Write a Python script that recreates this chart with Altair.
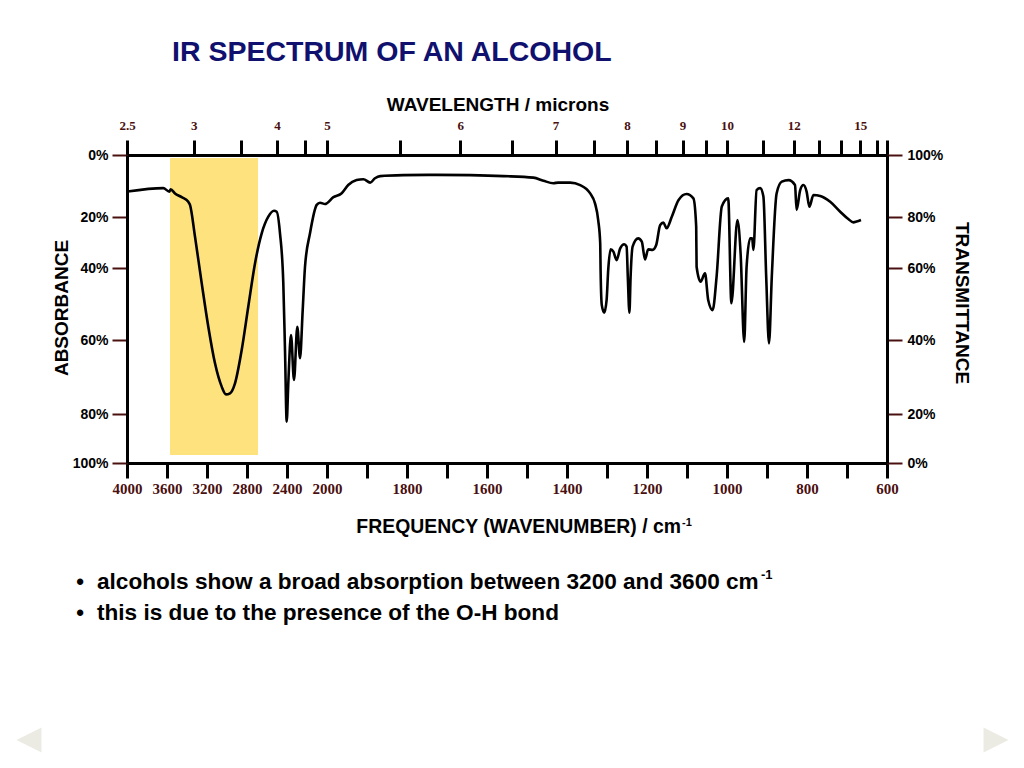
import altair as alt
import pandas as pd

SANS = "Liberation Sans"
SERIF = "Liberation Serif"
MAROON = "#4a1010"
NAVY = "#10106e"

# spectrum trace: wavenumber (cm-1) and transmittance (%)
wavenumber = [3995, 3637, 3577, 3563, 3520, 3453, 3387, 3370, 3320, 3253,
              3187, 3120, 3053, 3010, 2970, 2920, 2853, 2787, 2720, 2653,
              2587, 2530, 2503, 2470, 2437, 2420, 2403, 2387, 2360, 2330,
              2297, 2270, 2243, 2220, 2170, 2103, 2070, 2020, 1984, 1964,
              1947, 1926, 1909, 1892, 1880, 1867, 1809, 1726, 1642, 1559,
              1484, 1459, 1434, 1422, 1392, 1367, 1342, 1330, 1322, 1317,
              1316, 1313, 1307, 1301, 1297, 1291, 1284, 1276, 1267, 1257,
              1251, 1248, 1244, 1241, 1236, 1222, 1213, 1205, 1197, 1186,
              1177, 1167, 1159, 1151, 1138, 1121, 1101, 1084, 1077, 1076,
              1066, 1055, 1047, 1036, 1026, 1013, 997, 989, 974, 966,
              957, 951, 942, 937, 934, 926, 917, 909, 902, 895,
              888, 876, 863, 846, 830, 826, 817, 809, 801, 794,
              784, 767, 742, 717, 696, 684, 676, 665]
transmittance = [88.2, 89.3, 88.2, 88.9, 87.6, 86.4, 84.9, 83.9, 72.3, 55.8,
                 43.7, 33.7, 27.4, 25.3, 25.6, 28.3, 37.3, 49.3, 61.8, 73.6,
                 80.1, 82.0, 81.7, 73.6, 55.8, 37.3, 16.9, 28.3, 41.4, 29.2,
                 43.7, 35.1, 48.3, 60.5, 73.6, 83.9, 84.6, 84.2, 86.4, 87.6,
                 90.3, 91.9, 92.2, 91.1, 92.5, 93.2, 93.5, 93.6, 93.5, 93.2,
                 92.7, 91.7, 90.9, 91.1, 91.1, 90.3, 87.6, 84.4, 78.8, 69.8,
                 59.4, 49.7, 47.6, 51.1, 59.4, 67.3, 66.4, 63.1, 67.7, 69.3,
                 68.4, 57.6, 47.6, 57.6, 68.4, 71.6, 70.3, 63.4, 67.3, 67.1,
                 69.0, 76.9, 77.8, 75.6, 80.1, 85.5, 87.4, 86.0, 76.2, 60.5,
                 56.2, 58.5, 51.1, 48.3, 57.6, 83.4, 86.0, 50.2, 78.8, 65.8,
                 39.5, 60.5, 71.6, 71.6, 67.1, 88.7, 89.3, 86.6, 57.6, 39.1,
                 57.6, 87.6, 91.4, 91.9, 90.3, 82.3, 88.7, 90.3, 88.2, 83.3,
                 87.1, 86.8, 84.9, 81.7, 79.1, 77.9, 78.2, 78.8]

# highlighted O-H region
band_from, band_to = 3570, 2690
band_top, band_bottom = 99.0, 3.3

freq_ticks = [4000, 3600, 3200, 2800, 2400, 2000, 1900, 1800, 1700, 1600, 1500,
              1400, 1300, 1200, 1100, 1000, 900, 800, 700, 600]
micron_ticks = [2.5, 3, 3.5, 4, 4.5, 5, 5.5, 6, 6.5, 7, 7.5, 8, 8.5, 9, 9.5,
                10, 11, 12, 13, 14, 15, 16]
micron_labels = [2.5, 3, 4, 5, 6, 7, 8, 9, 10, 12, 15]
pct_ticks = [0, 20, 40, 60, 80, 100]

spec = pd.DataFrame({"wn": wavenumber, "t": transmittance,
                     "i": list(range(len(wavenumber)))})
band = pd.DataFrame({"a": [band_from], "b": [band_to],
                     "top": [band_top], "bot": [band_bottom]})

# the chart paper is not linear: 4000-2000 is compressed, and the % ticks are uneven
xscale = alt.Scale(domain=[4000, 2000, 600], range=[0, 200, 760], nice=False, zero=False)
yscale = alt.Scale(domain=[0, 20, 40, 60, 80, 100], range=[308, 259, 185, 113, 62, 0],
                   nice=False, zero=False)

common = dict(title=None, grid=False, domainColor="black", domainWidth=3,
              tickSize=15, labelFlush=False, labelOverlap=False)

bottom_axis = alt.Axis(orient="bottom", values=freq_ticks, format="d",
                       labelExpr="(datum.value >= 2000 || datum.value % 200 == 0) ? datum.label : ''",
                       tickWidth=3, tickColor="black", labelFont=SERIF, labelFontWeight="bold",
                       labelFontSize=15, labelColor=MAROON, labelPadding=3, **common)
top_axis = alt.Axis(orient="top", values=[10000 / m for m in micron_ticks] + [600],
                    labelExpr="indexof(%s, round(100000 / datum.value) / 10) >= 0 ? format(10000 / datum.value, '~g') : ''"
                    % str(micron_labels),
                    tickWidth=3, tickColor="black", labelFont=SERIF, labelFontWeight="bold",
                    labelFontSize=13, labelColor=MAROON, labelPadding=8, **common)
left_axis = alt.Axis(orient="left", values=pct_ticks, labelExpr="(100 - datum.value) + '%'",
                     tickWidth=2, tickColor=MAROON, labelFont=SANS, labelFontWeight="bold",
                     labelFontSize=14, labelColor="black", labelPadding=4, **common)
right_axis = alt.Axis(orient="right", values=pct_ticks, labelExpr="datum.value + '%'",
                      tickWidth=2, tickColor=MAROON, labelFont=SANS, labelFontWeight="bold",
                      labelFontSize=14, labelColor="black", labelPadding=5, **common)

highlight = alt.Chart(band).mark_rect(color="#fde27e").encode(
    x=alt.X("a:Q", scale=xscale, axis=bottom_axis),
    x2="b:Q",
    y=alt.Y("top:Q", scale=yscale, axis=left_axis),
    y2="bot:Q",
)

trace = alt.Chart(spec).mark_line(color="black", strokeWidth=2.6, interpolate="monotone").encode(
    x=alt.X("wn:Q", scale=xscale, axis=top_axis),
    y=alt.Y("t:Q", scale=yscale, axis=right_axis),
    order="i:Q",
)


def label(text, x, y, size, align="left", color="black", angle=0, baseline="alphabetic"):
    return alt.Chart(pd.DataFrame({"s": [text]})).mark_text(
        font=SANS, fontWeight="bold", fontSize=size, align=align, baseline=baseline,
        color=color, angle=angle,
    ).encode(x=alt.value(x), y=alt.value(y), text="s:N")


texts = [
    label("IR SPECTRUM OF AN ALCOHOL", 45, -94, 28.5, color=NAVY),
    label("WAVELENGTH / microns", 371, -44, 19, align="center"),
    label("FREQUENCY (WAVENUMBER) / cm", 554, 378, 19.4, align="right"),
    label("-1", 555, 371, 11),
    label("ABSORBANCE", -65, 153, 19, align="center", angle=270, baseline="middle"),
    label("TRANSMITTANCE", 835, 148, 19, align="center", angle=90, baseline="middle"),
    label("\u2022", -47, 434, 22, align="center"),
    label("alcohols show a broad absorption between 3200 and 3600 cm", -30, 434, 22.6),
    label("-1", 634, 424, 13),
    label("\u2022", -47, 465, 22, align="center"),
    label("this is due to the presence of the O-H bond", -30, 465, 22.6),
]

arrows = [
    alt.Chart(pd.DataFrame({"k": [0]})).mark_point(
        shape=shape, size=625, filled=True, color="#ecebe3", opacity=1, strokeWidth=0
    ).encode(x=alt.value(x), y=alt.value(585))
    for shape, x in [("M -1 0 L 1 -1 L 1 1 Z", -98), ("M 1 0 L -1 -1 L -1 1 Z", 869)]
]

chart = alt.layer(highlight, trace, *texts, *arrows).resolve_axis(
    x="independent", y="independent"
).properties(
    width=760, height=308,
    autosize=alt.AutoSizeParams(type="none"),
    padding={"left": 119, "top": 147, "right": 129, "bottom": 295},
).configure_view(strokeWidth=0).configure(background="white")

chart.save("out.html", embed_options={"renderer": "svg", "actions": False})
